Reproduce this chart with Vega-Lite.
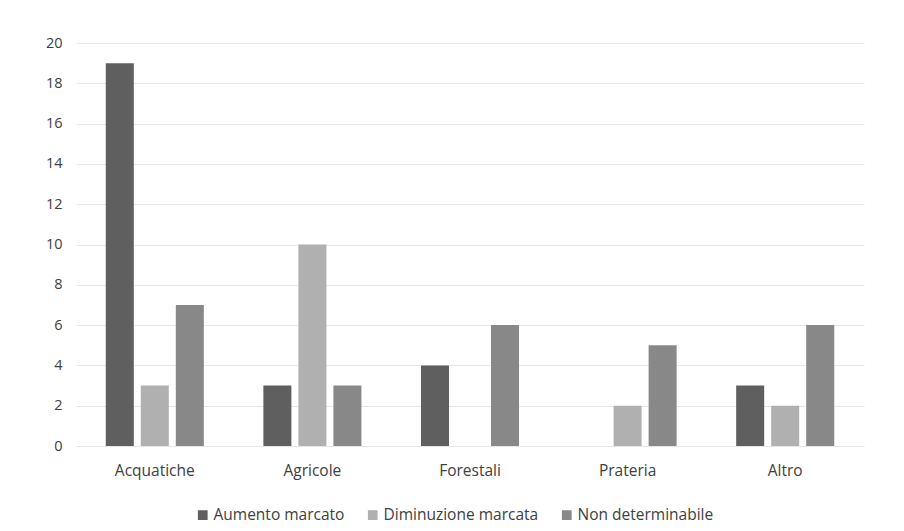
{
  "$schema": "https://vega.github.io/schema/vega-lite/v6.json",
  "autosize": "none",
  "width": 788,
  "height": 403,
  "padding": {"left": 76, "top": 43, "right": 40, "bottom": 85},
  "background": "white",
  "data": {
    "values": [
      {"habitat": "Acquatiche", "tendenza": "Aumento marcato", "n": 19},
      {"habitat": "Acquatiche", "tendenza": "Diminuzione marcata", "n": 3},
      {"habitat": "Acquatiche", "tendenza": "Non determinabile", "n": 7},
      {"habitat": "Agricole", "tendenza": "Aumento marcato", "n": 3},
      {"habitat": "Agricole", "tendenza": "Diminuzione marcata", "n": 10},
      {"habitat": "Agricole", "tendenza": "Non determinabile", "n": 3},
      {"habitat": "Forestali", "tendenza": "Aumento marcato", "n": 4},
      {"habitat": "Forestali", "tendenza": "Diminuzione marcata", "n": 0},
      {"habitat": "Forestali", "tendenza": "Non determinabile", "n": 6},
      {"habitat": "Prateria", "tendenza": "Aumento marcato", "n": 0},
      {"habitat": "Prateria", "tendenza": "Diminuzione marcata", "n": 2},
      {"habitat": "Prateria", "tendenza": "Non determinabile", "n": 5},
      {"habitat": "Altro", "tendenza": "Aumento marcato", "n": 3},
      {"habitat": "Altro", "tendenza": "Diminuzione marcata", "n": 2},
      {"habitat": "Altro", "tendenza": "Non determinabile", "n": 6}
    ]
  },
  "mark": {"type": "bar"},
  "encoding": {
    "x": {
      "field": "habitat",
      "type": "nominal",
      "sort": ["Acquatiche", "Agricole", "Forestali", "Prateria", "Altro"],
      "scale": {"paddingInner": 0, "paddingOuter": 0},
      "axis": {
        "title": null,
        "labelAngle": 0,
        "ticks": false,
        "domain": false,
        "labelPadding": 17,
        "labelFontSize": 15.5,
        "labelColor": "#404040",
        "labelFont": "Open Sans"
      }
    },
    "xOffset": {
      "field": "tendenza",
      "type": "nominal",
      "sort": ["Aumento marcato", "Diminuzione marcata", "Non determinabile"],
      "scale": {"paddingInner": 0.2, "paddingOuter": 0.85}
    },
    "y": {
      "field": "n",
      "type": "quantitative",
      "scale": {"domain": [0, 20], "nice": false},
      "axis": {
        "title": null,
        "values": [0, 2, 4, 6, 8, 10, 12, 14, 16, 18, 20],
        "ticks": false,
        "domain": false,
        "labelPadding": 14,
        "labelFontSize": 14.5,
        "labelColor": "#404040",
        "labelFont": "Open Sans",
        "gridColor": "#e6e6e6",
        "gridWidth": 1.2
      }
    },
    "color": {
      "field": "tendenza",
      "type": "nominal",
      "sort": ["Aumento marcato", "Diminuzione marcata", "Non determinabile"],
      "scale": {"range": ["#5f5f5f", "#b0b0b0", "#888888"]},
      "legend": {
        "title": null,
        "orient": "none",
        "legendX": 119,
        "legendY": 464,
        "padding": 0,
        "direction": "horizontal",
        "symbolType": "square",
        "symbolSize": 95,
        "symbolStrokeWidth": 0,
        "labelFontSize": 15.5,
        "labelColor": "#404040",
        "labelFont": "Open Sans",
        "labelOffset": 3,
        "columnPadding": 20
      }
    }
  },
  "config": {
    "view": {"stroke": null}
  }
}
